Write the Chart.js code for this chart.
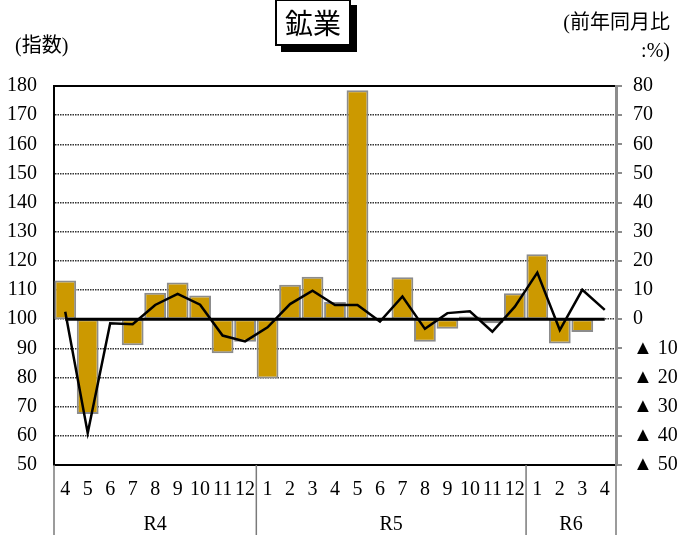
<!DOCTYPE html>
<html lang="ja">
<head>
<meta charset="utf-8">
<script src="https://cdn.jsdelivr.net/npm/chart.js@4.4.1/dist/chart.umd.min.js"></script>
<style>
  html, body { margin: 0; padding: 0; background: #fff; }
  #wrap { position: relative; width: 684px; height: 535px; overflow: hidden; }
  #c { position: absolute; left: 0; top: 0; }
  .txt { position: absolute; font-family: 'Liberation Serif', 'Noto Sans CJK JP', serif; font-size: 20px; line-height: 24px; color: #000; white-space: nowrap; }
  #title { position: absolute; left: 275px; top: -1px; width: 72px; height: 43px; border: 2px solid #000; background: #fff;
           box-shadow: 6px 6px 0 #000; font-family: 'Noto Sans CJK JP', sans-serif; font-size: 28px; line-height: 43px; text-align: center; }
</style>
</head>
<body>
<div id="wrap">
  <canvas id="c" width="684" height="535"></canvas>
  <div id="title">鉱業</div>
  <div class="txt" style="left:15px; top:33px;">(指数)</div>
  <div class="txt" style="right:14px; top:10px;">(前年同月比</div>
  <div class="txt" style="right:14px; top:38px;">:%)</div>
</div>
<script>
// ---- data ----
const months = ['4','5','6','7','8','9','10','11','12',
                '1','2','3','4','5','6','7','8','9','10','11','12',
                '1','2','3','4'];
const groupNames = ['R4', 'R5', 'R6'];
const groupSizes = [9, 12, 4];
const indexValues = [113.3, 67.5, 99.2, 91.1, 109.1, 112.6, 108.1, 88.3, 92.3,
                     79.7, 111.8, 114.6, 105.9, 178.5, 100.2, 114.4, 92.3, 96.7, 100.9, 98.6, 108.9,
                     122.3, 91.7, 95.6, 100.2];
const yoyValues = [2.6, -39.0, -1.4, -1.7, 4.9, 8.7, 5.0, -5.6, -7.6,
                   -2.8, 5.2, 9.8, 4.9, 4.9, -0.8, 7.8, -3.3, 2.1, 2.7, -4.3, 4.3,
                   16.0, -3.7, 10.1, 3.2];
const zeroLine = [0,0,0,0,0,0,0,0,0, 0,0,0,0,0,0,0,0,0,0,0,0, 0,0,0,0];
const indexBase = 100;
const leftTicks = { min: 50, max: 180, step: 10 };
const rightTicks = { min: -50, max: 80, step: 10 };

const serif = "'Liberation Serif', 'Noto Sans CJK JP', serif";

const groupPlugin = {
  id: 'groups',
  afterDraw(chart) {
    const ctx = chart.ctx;
    const xs = chart.scales.x;
    const area = chart.chartArea;
    const bounds = [area.left];
    let k = 0;
    for (let g = 0; g < groupSizes.length; g++) {
      k += groupSizes[g];
      if (k < months.length) {
        bounds.push((xs.getPixelForValue(k - 1) + xs.getPixelForValue(k)) / 2);
      } else {
        bounds.push(area.right);
      }
    }
    ctx.save();
    ctx.strokeStyle = '#7a7a7a';
    ctx.lineWidth = 1.5;
    bounds.forEach(b => {
      ctx.beginPath();
      ctx.moveTo(b, area.bottom);
      ctx.lineTo(b, chart.height);
      ctx.stroke();
    });
    ctx.fillStyle = '#000';
    ctx.font = '20px ' + serif;
    ctx.textAlign = 'center';
    ctx.textBaseline = 'middle';
    for (let g = 0; g < groupNames.length; g++) {
      ctx.fillText(groupNames[g], (bounds[g] + bounds[g + 1]) / 2, area.bottom + 60);
    }
    ctx.restore();
  }
};

new Chart(document.getElementById('c'), {
  type: 'bar',
  data: {
    labels: months,
    datasets: [
      {
        type: 'line',
        data: yoyValues,
        yAxisID: 'y1',
        borderColor: '#000',
        borderWidth: 2.5,
        pointRadius: 0,
        tension: 0,
        order: 1
      },
      {
        type: 'line',
        data: zeroLine,
        yAxisID: 'y1',
        borderColor: '#000',
        borderWidth: 3,
        pointRadius: 0,
        order: 2
      },
      {
        type: 'bar',
        data: indexValues.map(v => [indexBase, v]),
        yAxisID: 'y',
        backgroundColor: '#CC9900',
        borderColor: '#8c8c8c',
        borderWidth: 2,
        borderSkipped: false,
        barPercentage: 0.97,
        categoryPercentage: 1.0,
        order: 3
      }
    ]
  },
  options: {
    responsive: false,
    animation: false,
    devicePixelRatio: 1,
    layout: { padding: { top: 86, left: 0, right: 0, bottom: 0 } },
    plugins: { legend: { display: false }, tooltip: { enabled: false } },
    scales: {
      x: {
        position: 'bottom',
        grid: { drawOnChartArea: false, drawTicks: false },
        border: { display: true, color: '#000', width: 2 },
        ticks: { color: '#000', font: { family: serif, size: 20 }, padding: 13, maxRotation: 0, autoSkip: false },
        afterFit(s) { s.height = 70; }
      },
      xTop: {
        position: 'top',
        type: 'category',
        labels: months,
        grid: { drawOnChartArea: false, drawTicks: false },
        border: { display: true, color: '#000', width: 2 },
        ticks: { display: false },
        afterFit(s) { s.height = 0; }
      },
      y: {
        position: 'left',
        min: leftTicks.min, max: leftTicks.max,
        ticks: { stepSize: leftTicks.step, color: '#000', font: { family: serif, size: 20 }, padding: 17 },
        grid: { color: '#333', lineWidth: 1.5, drawTicks: false },
        border: { display: true, color: '#000', width: 2, dash: [1.5, 1] },
        afterFit(s) { s.width = 54; }
      },
      y1: {
        position: 'right',
        min: rightTicks.min, max: rightTicks.max,
        ticks: {
          stepSize: rightTicks.step, color: '#000', font: { family: serif, size: 20 }, padding: 11,
          callback: v => v < 0 ? '▲ ' + (-v) : String(v)
        },
        grid: { drawOnChartArea: false, drawTicks: true, tickLength: 6, color: '#8c8c8c', lineWidth: 2 },
        border: { display: true, color: '#8c8c8c', width: 3 },
        afterFit(s) { s.width = 68; }
      }
    }
  },
  plugins: [groupPlugin]
});
</script>
</body>
</html>
